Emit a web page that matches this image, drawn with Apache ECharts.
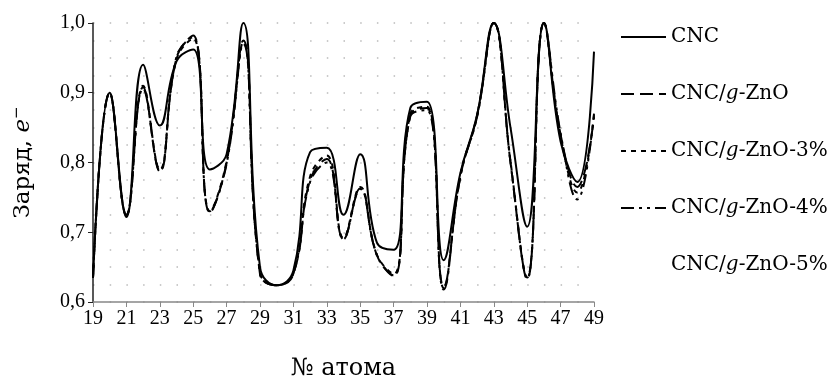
<!DOCTYPE html>
<html>
<head>
<meta charset="utf-8">
<script src="https://cdn.jsdelivr.net/npm/echarts@6/dist/echarts.min.js"></script>
<style>
  html, body { margin: 0; padding: 0; background: #fff; }
  #chart { width: 831px; height: 377px; }
</style>
</head>
<body>
<div id="chart"></div>
<script>
  // номера атомов
  var atoms = [];
  for (var a = 19; a <= 49; a++) atoms.push(a);

  // заряд, значения
  var cnc     = [0.635, 0.900, 0.722, 0.940, 0.853, 0.945, 0.962, 0.790, 0.812, 1.000, 0.650, 0.624, 0.645, 0.815, 0.821, 0.725, 0.812, 0.685, 0.675, 0.878, 0.887, 0.660, 0.785, 0.868, 1.000, 0.850, 0.708, 1.000, 0.830, 0.772, 0.959];
  var gzno    = [0.635, 0.900, 0.725, 0.908, 0.787, 0.950, 0.982, 0.728, 0.800, 0.975, 0.640, 0.624, 0.640, 0.775, 0.805, 0.690, 0.763, 0.667, 0.637, 0.868, 0.878, 0.622, 0.780, 0.868, 1.000, 0.800, 0.633, 1.000, 0.840, 0.765, 0.865];
  var gzno3   = [0.635, 0.900, 0.725, 0.910, 0.790, 0.948, 0.978, 0.730, 0.802, 0.972, 0.642, 0.624, 0.642, 0.780, 0.810, 0.692, 0.765, 0.668, 0.640, 0.870, 0.880, 0.620, 0.782, 0.866, 1.000, 0.802, 0.635, 1.000, 0.838, 0.757, 0.868];
  var gzno4   = [0.635, 0.900, 0.724, 0.906, 0.788, 0.952, 0.980, 0.729, 0.798, 0.970, 0.641, 0.624, 0.641, 0.772, 0.800, 0.690, 0.762, 0.667, 0.638, 0.866, 0.875, 0.618, 0.780, 0.866, 1.000, 0.800, 0.634, 1.000, 0.842, 0.747, 0.870];
  var gzno5   = [0.635, 0.900, 0.725, 0.908, 0.788, 0.950, 0.980, 0.728, 0.800, 0.974, 0.640, 0.624, 0.640, 0.776, 0.805, 0.690, 0.763, 0.667, 0.637, 0.868, 0.878, 0.621, 0.780, 0.867, 1.000, 0.800, 0.633, 1.000, 0.840, 0.762, 0.866];

  var names = ['CNC', 'CNC/{i|g}-ZnO', 'CNC/{i|g}-ZnO-3%', 'CNC/{i|g}-ZnO-4%', 'CNC/{i|g}-ZnO-5%'];

  function pts(arr) {
    return arr.map(function (v, i) { return [atoms[i], v]; });
  }

  var serif = 'DejaVu Serif';
  var times = 'Liberation Serif';

  function line(name, arr, type, z) {
    return {
      name: name,
      type: 'line',
      data: pts(arr),
      smooth: 0.45,
      symbol: 'none',
      color: '#000',
      z: z,
      itemStyle: { color: '#000' },
      lineStyle: { color: '#000', width: 2, type: type }
    };
  }

  var myChart = echarts.init(document.getElementById('chart'));
  var option = {
    backgroundColor: '#fff',
    animation: false,
    grid: { left: 93, right: 237, top: 23, bottom: 75, outerBoundsMode: 'none', containLabel: false },
    legend: {
      orient: 'vertical',
      left: 615,
      top: 22,
      itemWidth: 45,
      itemHeight: 14,
      itemGap: 37,
      itemStyle: { opacity: 0 },
      lineStyle: { width: 2 },
      textStyle: {
        fontFamily: serif, fontSize: 20, color: '#000', lineHeight: 20,
        rich: { i: { fontFamily: serif, fontStyle: 'italic', fontSize: 20, color: '#000' } }
      },
      data: [
        { name: names[0] },
        { name: names[1] },
        { name: names[2] },
        { name: names[3] },
        { name: names[4], itemStyle: { opacity: 0 }, lineStyle: { opacity: 0 } }
      ]
    },
    xAxis: {
      type: 'value',
      min: 19,
      max: 49,
      interval: 2,
      name: '№ атома',
      nameLocation: 'middle',
      nameGap: 55,
      nameTextStyle: { fontFamily: serif, fontSize: 24, color: '#000' },
      axisLine: { lineStyle: { color: '#888', width: 1.5 } },
      axisTick: { show: true, length: 5, lineStyle: { color: '#888' } },
      axisLabel: { fontFamily: times, fontSize: 20, color: '#000', margin: 7 },
      splitLine: { show: false }
    },
    yAxis: {
      type: 'value',
      min: 0.6,
      max: 1.0,
      interval: 0.1,
      name: '{a|Заряд, }{i|e}{s|−}',
      nameLocation: 'middle',
      nameGap: 56,
      nameRotate: 90,
      nameTextStyle: {
        rich: {
          a: { fontFamily: serif, fontSize: 23, color: '#000' },
          i: { fontFamily: serif, fontStyle: 'italic', fontSize: 23, color: '#000' },
          s: { fontFamily: serif, fontSize: 15, color: '#000', verticalAlign: 'top', padding: [0, 0, 12, 0] }
        }
      },
      axisLine: { show: true, lineStyle: { color: '#222', width: 1.5 } },
      axisTick: { show: true, length: 5, lineStyle: { color: '#222' } },
      axisLabel: {
        fontFamily: times, fontSize: 20, color: '#000', margin: 8,
        formatter: function (v) { return v.toFixed(1).replace('.', ','); }
      },
      splitLine: { show: true, lineStyle: { color: '#bbb', width: 1.5, type: [1.5, 15.2] } },
      minorTick: { show: false, splitNumber: 4 },
      minorSplitLine: { show: true, lineStyle: { color: '#bbb', width: 1.5, type: [1.5, 15.2] } }
    },
    series: [
      line(names[4], gzno5, [1, 200], 1),
      line(names[3], gzno4, [13, 5, 3, 5, 3, 5], 2),
      line(names[2], gzno3, [5, 5], 3),
      line(names[1], gzno, [13, 6], 4),
      line(names[0], cnc, 'solid', 5)
    ]
  };
  myChart.setOption(option);
</script>
</body>
</html>
